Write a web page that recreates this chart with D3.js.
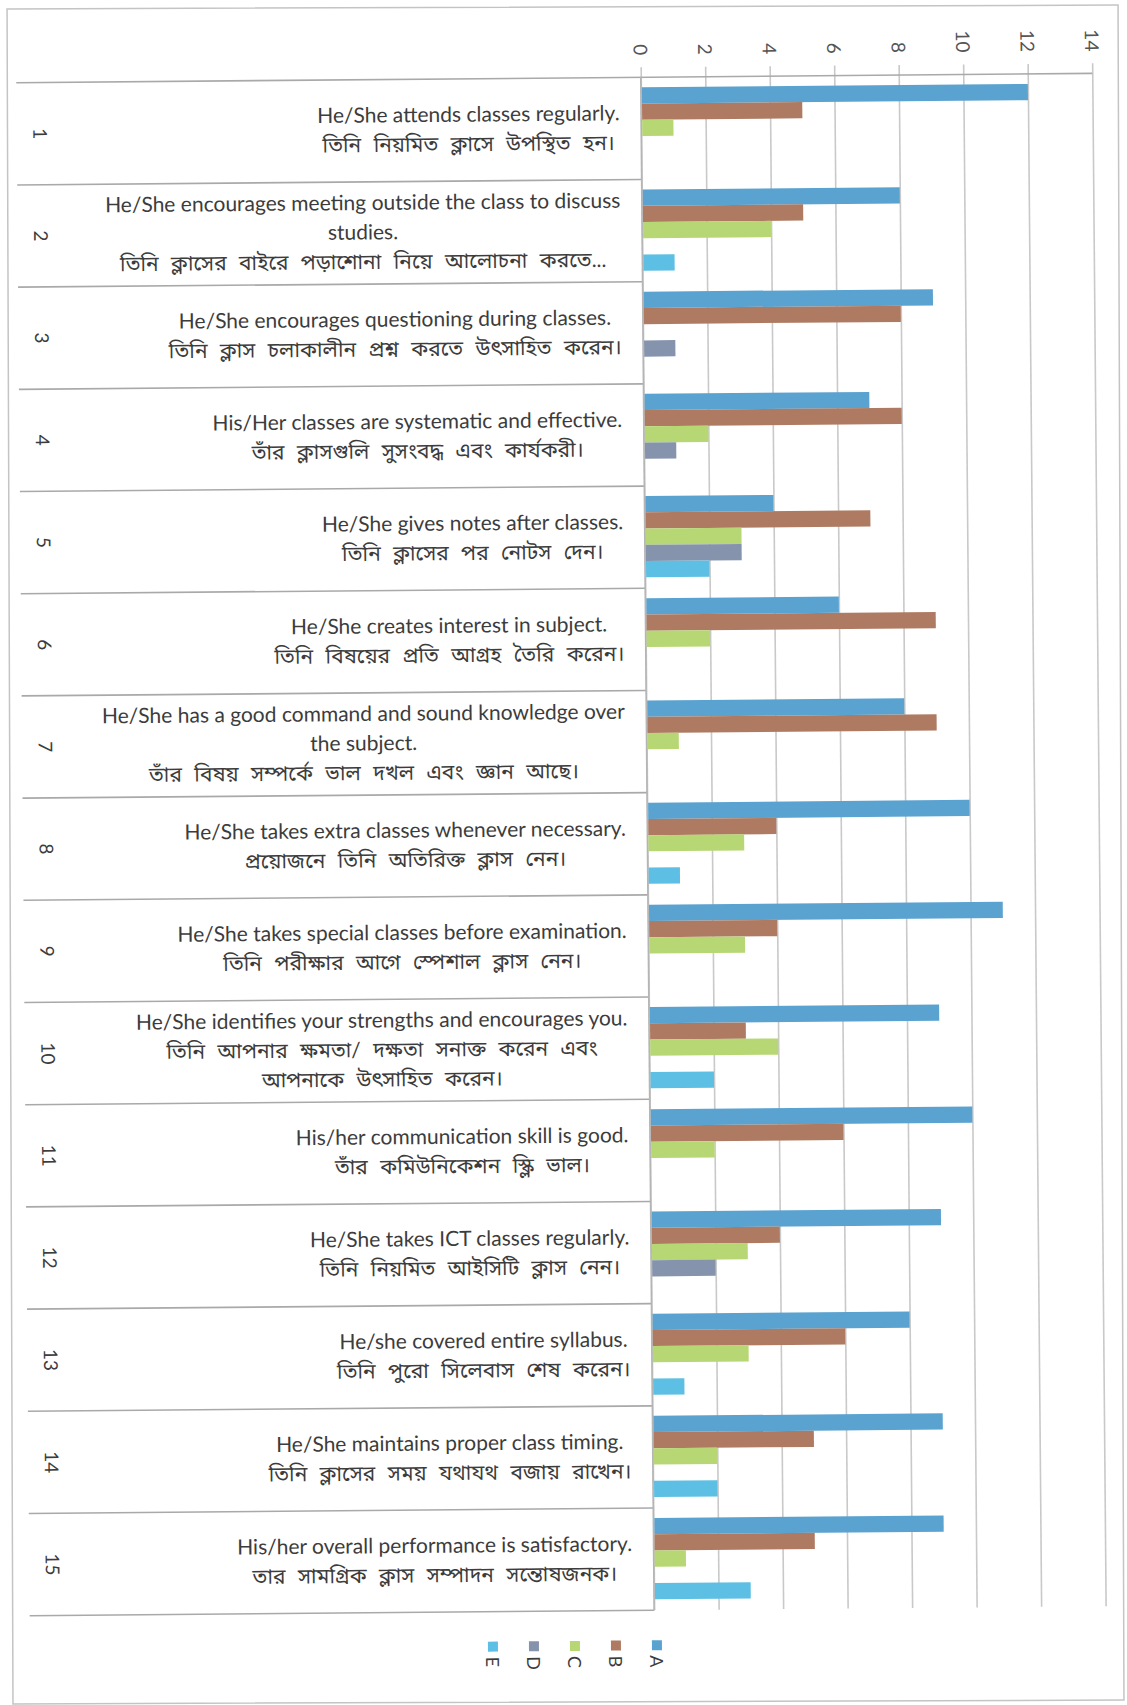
<!DOCTYPE html>
<html>
<head>
<meta charset="utf-8">
<script src="https://cdn.jsdelivr.net/npm/d3@7"></script>
<style>
  html, body { margin: 0; padding: 0; background: #ffffff; }
  svg { display: block; }
  .lbl { font-family: "Lato", "Noto Sans Bengali", "Lohit Bengali", "Noto Sans", sans-serif; fill: #3c3c3c; }
</style>
</head>
<body>
<script>
// ---------- data ----------
const categories = ["1","2","3","4","5","6","7","8","9","10","11","12","13","14","15"];
const labelsEn = [
  ["He/She attends classes regularly."],
  ["He/She encourages meeting outside the class to discuss", "studies."],
  ["He/She encourages questioning  during classes."],
  ["His/Her classes are systematic and effective."],
  ["He/She gives notes after classes."],
  ["He/She creates interest in subject."],
  ["He/She has a good command and sound knowledge over", "the subject."],
  ["He/She takes extra classes whenever necessary."],
  ["He/She takes special classes before examination."],
  ["He/She identifies your strengths and encourages you."],
  ["His/her communication skill is good."],
  ["He/She takes ICT classes regularly."],
  ["He/she covered entire syllabus."],
  ["He/She maintains proper class timing."],
  ["His/her overall performance is satisfactory."]
];
const labelsBn = [
  ["তিনি নিয়মিত ক্লাসে উপস্থিত হন।"],
  ["তিনি ক্লাসের বাইরে পড়াশোনা নিয়ে আলোচনা করতে..."],
  ["তিনি ক্লাস চলাকালীন প্রশ্ন করতে উৎসাহিত করেন।"],
  ["তাঁর ক্লাসগুলি সুসংবদ্ধ এবং কার্যকরী।"],
  ["তিনি ক্লাসের পর নোটস দেন।"],
  ["তিনি বিষয়ের প্রতি আগ্রহ তৈরি করেন।"],
  ["তাঁর বিষয় সম্পর্কে ভাল দখল এবং জ্ঞান আছে।"],
  ["প্রয়োজনে তিনি অতিরিক্ত ক্লাস নেন।"],
  ["তিনি পরীক্ষার আগে স্পেশাল ক্লাস নেন।"],
  ["তিনি আপনার ক্ষমতা/ দক্ষতা সনাক্ত করেন এবং", "আপনাকে উৎসাহিত করেন।"],
  ["তাঁর কমিউনিকেশন স্কিল ভাল।"],
  ["তিনি নিয়মিত আইসিটি ক্লাস নেন।"],
  ["তিনি পুরো সিলেবাস শেষ করেন।"],
  ["তিনি ক্লাসের সময় যথাযথ বজায় রাখেন।"],
  ["তার সামগ্রিক ক্লাস সম্পাদন সন্তোষজনক।"]
];
const seriesNames = ["A","B","C","D","E"];
const valuesA = [12, 8, 9, 7, 4, 6, 8, 10, 11, 9, 10, 9, 8, 9, 9];
const valuesB = [ 5, 5, 8, 8, 7, 9, 9,  4,  4, 3,  6, 4, 6, 5, 5];
const valuesC = [ 1, 4, 0, 2, 3, 2, 1,  3,  3, 4,  2, 3, 3, 2, 1];
const valuesD = [ 0, 0, 1, 1, 3, 0, 0,  0,  0, 0,  0, 2, 0, 0, 0];
const valuesE = [ 0, 1, 0, 0, 2, 0, 0,  1,  0, 2,  0, 0, 1, 2, 3];
const tickValues = [0, 2, 4, 6, 8, 10, 12, 14];
const seriesColors = ["#5aa2d0", "#ae7b62", "#b6d774", "#8593ac", "#5cbfe3"];

// ---------- layout ----------
const W = 1127, H = 1705;
const svg = d3.select("body").append("svg").attr("width", W).attr("height", H);

// frame (scanned page border)
svg.append("rect").attr("x", 10).attr("y", 7).attr("width", 1111).attr("height", 1695)
  .attr("transform", "rotate(-0.2, 563, 850)")
  .attr("fill", "none").attr("stroke", "#c4c4c4").attr("stroke-width", 1.5);

const g = svg.append("g").attr("transform", "rotate(-0.5, 563, 850)");

const plotTop = 78, plotBottom = 1611, leftEdge = 23;
const x = d3.scaleLinear().domain([0, 14]).range([647.5, 1099]);
const y0 = d3.scaleBand().domain(categories).range([plotTop, plotBottom]).padding(0);
const y1 = d3.scaleBand().domain(seriesNames).range([10, y0.bandwidth() - 11]).padding(0);
const color = d3.scaleOrdinal().domain(seriesNames).range(seriesColors);
const allValues = [valuesA, valuesB, valuesC, valuesD, valuesE];

// gridlines + tick labels through axis
const axisTopY = 68;
const axis = d3.axisTop(x).tickValues(tickValues).tickSize(-(plotBottom - axisTopY)).tickFormat(d3.format("d"));
const ax = g.append("g").attr("transform", `translate(0,${axisTopY})`).call(axis);
ax.select(".domain").remove();
ax.selectAll(".tick line").attr("stroke", "#c9c9c9").attr("stroke-width", 1.6);
ax.selectAll(".tick text")
  .attr("y", null).attr("dy", null)
  .attr("transform", "translate(0,-12) rotate(90)")
  .attr("text-anchor", "end")
  .attr("dominant-baseline", "central")
  .style("font-family", "Lato, sans-serif")
  .style("font-size", "19px")
  .attr("fill", "#555");

// top axis line
g.append("line").attr("x1", leftEdge).attr("x2", x(14)).attr("y1", plotTop).attr("y2", plotTop)
  .attr("stroke", "#a9a9a9").attr("stroke-width", 1.6);

// row separators
g.selectAll("line.sep").data(categories.slice(1).concat(["__end"]))
  .join("line").attr("class", "sep")
  .attr("x1", leftEdge).attr("x2", x(0))
  .attr("y1", d => d === "__end" ? plotBottom : y0(d))
  .attr("y2", d => d === "__end" ? plotBottom : y0(d))
  .attr("stroke", "#a9a9a9").attr("stroke-width", 1.6);

// category axis line
g.append("line").attr("x1", x(0)).attr("x2", x(0)).attr("y1", plotTop).attr("y2", plotBottom)
  .attr("stroke", "#b5b5b5").attr("stroke-width", 1.6);

// bars
const groups = g.selectAll("g.cat").data(categories).join("g").attr("class", "cat")
  .attr("transform", d => `translate(0,${y0(d)})`);
groups.selectAll("rect")
  .data((d, i) => seriesNames.map((s, k) => ({ s, v: allValues[k][i] })))
  .join("rect")
  .attr("x", x(0) + 1)
  .attr("y", d => y1(d.s))
  .attr("height", y1.bandwidth())
  .attr("width", d => Math.max(0, x(d.v) - x(0) - (d.v > 0 ? 1 : 0)))
  .attr("fill", d => color(d.s));

// category numbers (rotated)
groups.append("text")
  .attr("class", "lbl")
  .attr("transform", `translate(47,${y0.bandwidth() / 2}) rotate(90)`)
  .attr("text-anchor", "middle")
  .attr("dominant-baseline", "central")
  .style("font-size", "19px")
  .attr("fill", "#555")
  .text(d => d);

// category text labels (block right aligned, lines centered)
const lineH = 29.5, rightEdge = 626;
groups.each(function (d, i) {
  const lines = labelsEn[i].map(t => ({ t, bn: false })).concat(labelsBn[i].map(t => ({ t, bn: true })));
  const grp = d3.select(this).append("g");
  const texts = grp.selectAll("text").data(lines).join("text")
    .attr("class", "lbl")
    .style("font-size", l => l.bn ? "21px" : "21px")
    .style("word-spacing", l => l.bn ? "7px" : "0px")
    .attr("text-anchor", "middle")
    .attr("dominant-baseline", "central")
    .text(l => l.t);
  let maxW = 0;
  texts.each(function () { maxW = Math.max(maxW, this.getComputedTextLength()); });
  const cx = rightEdge - maxW / 2;
  const top = y0.bandwidth() / 2 - 2 - (lines.length - 1) * lineH / 2;
  texts.attr("x", cx).attr("y", (l, k) => top + k * lineH);
});

// legend (rotated items)
const legendOrder = ["E", "D", "C", "B", "A"];
const legendX = d3.scalePoint().domain(legendOrder).range([486, 650]);
const leg = g.selectAll("g.leg").data(legendOrder).join("g").attr("class", "leg")
  .attr("transform", d => `translate(${legendX(d)},1641) rotate(90)`);
leg.append("rect").attr("x", 0).attr("y", -5).attr("width", 10).attr("height", 10)
  .attr("fill", d => color(d));
leg.append("text").attr("class", "lbl").attr("x", 15).attr("y", 0)
  .attr("dominant-baseline", "central")
  .style("font-size", "18px").attr("fill", "#555")
  .text(d => d);
</script>
</body>
</html>
